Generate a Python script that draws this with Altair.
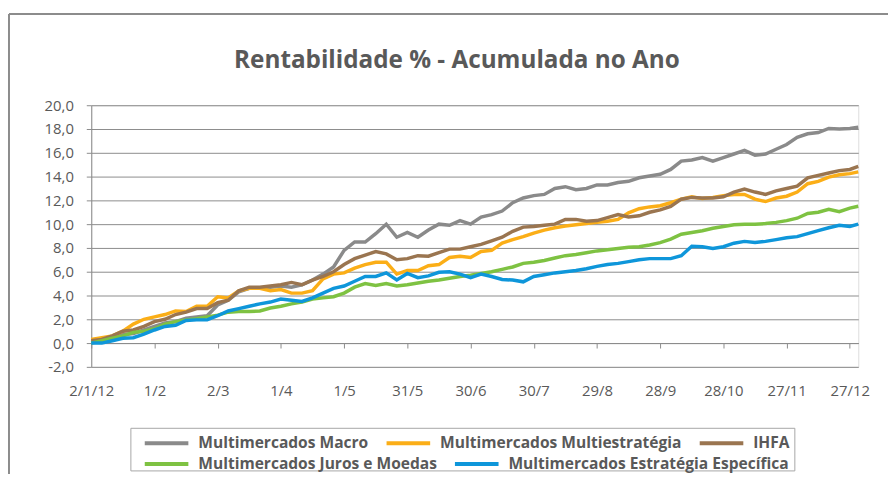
import altair as alt
import pandas as pd

# ---------------- data ----------------
start_date = "2012-01-02"
end_date = "2012-12-31"
day_offsets = [0, 5, 10, 15, 20, 25, 30, 35, 40, 45, 50, 55, 60, 65, 70, 75, 80, 85, 90, 95,
               100, 105, 110, 115, 120, 125, 130, 135, 140, 145, 150, 155, 160, 165, 170, 175,
               180, 185, 190, 195, 200, 205, 210, 215, 220, 225, 230, 235, 240, 245, 250, 255,
               260, 265, 270, 275, 280, 285, 290, 295, 300, 305, 310, 315, 320, 325, 330, 335,
               340, 345, 350, 355, 360, 364]

macro = [0.1, 0.3, 0.5, 0.7, 0.8, 1.1, 1.4, 1.7, 1.8, 2.1, 2.2, 2.3, 3.2, 3.6, 4.3, 4.6, 4.6, 4.7, 4.8, 4.7,
         4.9, 5.3, 5.8, 6.4, 7.8, 8.5, 8.5, 9.2, 10.0, 8.9, 9.3, 8.9, 9.5, 10.0, 9.9, 10.3,
         10.0, 10.6, 10.8, 11.1, 11.8, 12.2, 12.4, 12.5, 13.0, 13.15, 12.9, 13.0, 13.3, 13.3, 13.5, 13.6,
         13.9, 14.05, 14.2, 14.6, 15.3, 15.4, 15.6, 15.3, 15.6, 15.9, 16.2, 15.8, 15.9, 16.3, 16.7, 17.3,
         17.6, 17.7, 18.05, 18.0, 18.05, 18.15]

multiestrategia = [0.3, 0.45, 0.6, 1.0, 1.6, 2.0, 2.2, 2.4, 2.7, 2.65, 3.1, 3.1, 3.9, 3.8, 4.4, 4.6, 4.6, 4.4, 4.5, 4.2,
                   4.2, 4.4, 5.4, 5.8, 5.9, 6.3, 6.6, 6.8, 6.8, 5.8, 6.1, 6.1, 6.5, 6.6, 7.2, 7.3,
                   7.2, 7.7, 7.8, 8.4, 8.7, 8.95, 9.25, 9.5, 9.7, 9.85, 9.95, 10.05, 10.15, 10.25, 10.4, 10.95,
                   11.3, 11.45, 11.55, 11.8, 12.1, 12.3, 12.15, 12.25, 12.4, 12.5, 12.5, 12.1, 11.9, 12.2, 12.35, 12.7,
                   13.4, 13.6, 13.95, 14.15, 14.25, 14.4]

ihfa = [0.2, 0.3, 0.6, 1.0, 1.1, 1.4, 1.8, 2.0, 2.4, 2.6, 2.9, 2.9, 3.4, 3.6, 4.4, 4.7, 4.7, 4.8, 4.9, 5.1,
        4.9, 5.3, 5.6, 6.0, 6.6, 7.1, 7.4, 7.7, 7.5, 7.0, 7.1, 7.35, 7.3, 7.6, 7.9, 7.9,
        8.1, 8.3, 8.6, 8.9, 9.4, 9.75, 9.8, 9.9, 10.0, 10.4, 10.4, 10.25, 10.3, 10.55, 10.8, 10.6,
        10.7, 11.0, 11.2, 11.5, 12.1, 12.25, 12.2, 12.2, 12.3, 12.7, 12.95, 12.7, 12.5, 12.8, 13.0, 13.2,
        13.9, 14.1, 14.3, 14.5, 14.6, 14.85]

juros_moedas = [0.0, 0.2, 0.4, 0.6, 0.9, 1.0, 1.2, 1.6, 1.8, 1.95, 2.05, 2.2, 2.35, 2.6, 2.65, 2.65, 2.7, 2.95, 3.1, 3.3,
                3.45, 3.7, 3.8, 3.9, 4.2, 4.7, 5.0, 4.85, 5.0, 4.8, 4.9, 5.05, 5.2, 5.3, 5.45, 5.6,
                5.7, 5.85, 6.0, 6.2, 6.4, 6.7, 6.8, 6.95, 7.15, 7.35, 7.45, 7.6, 7.75, 7.85, 7.95, 8.05,
                8.1, 8.25, 8.45, 8.75, 9.15, 9.3, 9.45, 9.65, 9.8, 9.95, 10.0, 10.0, 10.05, 10.15, 10.3, 10.5,
                10.9, 11.0, 11.25, 11.05, 11.35, 11.5]

estrategia_especifica = [0.0, 0.0, 0.2, 0.4, 0.45, 0.75, 1.1, 1.4, 1.5, 1.9, 1.95, 1.95, 2.3, 2.7, 2.9, 3.1, 3.3, 3.45, 3.7, 3.6,
                         3.5, 3.8, 4.2, 4.6, 4.8, 5.2, 5.6, 5.6, 5.9, 5.3, 5.85, 5.5, 5.65, 5.95, 6.0, 5.8,
                         5.5, 5.8, 5.6, 5.35, 5.3, 5.15, 5.6, 5.75, 5.9, 6.0, 6.1, 6.25, 6.45, 6.6, 6.7, 6.85,
                         7.0, 7.1, 7.1, 7.1, 7.35, 8.15, 8.1, 7.95, 8.1, 8.4, 8.55, 8.45, 8.55, 8.7, 8.85, 8.95,
                         9.2, 9.45, 9.7, 9.9, 9.8, 10.0]

series_names = ["Multimercados Macro", "Multimercados Multiestratégia", "IHFA",
                "Multimercados Juros e Moedas", "Multimercados Estratégia Específica"]
series_values = [macro, multiestrategia, ihfa, juros_moedas, estrategia_especifica]
series_colors = ["#8a8a8a", "#fbae17", "#9a7550", "#7ec242", "#0e96da"]

tick_dates = ["2012-01-02", "2012-02-01", "2012-03-02", "2012-04-01", "2012-05-01", "2012-05-31",
              "2012-06-30", "2012-07-30", "2012-08-29", "2012-09-28", "2012-10-28", "2012-11-27",
              "2012-12-27"]
y_ticks = [-2, 0, 2, 4, 6, 8, 10, 12, 14, 16, 18, 20]

title_text = "Rentabilidade % - Acumulada no Ano"

# ---------------- build table ----------------
dates = [pd.Timestamp(start_date) + pd.Timedelta(days=d) for d in day_offsets]
rows = []
for name, vals in zip(series_names, series_values):
    for dt, v in zip(dates, vals):
        rows.append({"date": dt, "value": v, "series": name})
df = pd.DataFrame(rows)
df_a = df[df["series"].isin(series_names[:3])]
df_b = df[df["series"].isin(series_names[3:])]


def to_dt(s):
    t = pd.Timestamp(s)
    return alt.DateTime(year=t.year, month=t.month, date=t.day)


tick_vals = [to_dt(s) for s in tick_dates]

# ---------------- style ----------------
FONT = "Open Sans"
TXT = "#595959"
GRID = "#8c8c8c"
W, H = 774, 264

x_scale = alt.Scale(domain=[to_dt(start_date), to_dt(end_date)])
y_scale = alt.Scale(domain=[-2, 20], nice=False, zero=False)

y_axis = alt.Axis(values=y_ticks, title=None, grid=True, gridColor=GRID, gridWidth=1,
                  domainColor=GRID, tickColor=GRID, tickSize=5,
                  labelFont=FONT, labelFontSize=15, labelColor=TXT, labelPadding=13,
                  labelExpr="(datum.value < 0 ? '-' : '') + replace(format(abs(datum.value), '.1f'), '.', ',')")

x_axis_labels = alt.Axis(values=tick_vals, title=None, orient="bottom", grid=False, domain=False,
                         ticks=False, labelFont=FONT, labelFontSize=15, labelColor=TXT,
                         labelPadding=17, labelOverlap=False, labelFlush=False,
                         labelExpr="month(datum.value) == 0 && date(datum.value) == 2 ? "
                                   "timeFormat(datum.value, '%-d/%-m/%y') : timeFormat(datum.value, '%-d/%-m')")

x_axis_zero = alt.Axis(values=tick_vals, title=None, orient="bottom", grid=False, labels=False,
                       domain=True, domainColor=GRID, ticks=True, tickColor=GRID, tickSize=5,
                       offset=-24)

legend_common = dict(orient="none", direction="horizontal", title=None, symbolType="stroke",
                     symbolSize=1936, symbolStrokeWidth=4, labelFont=FONT, labelFontSize=15.7,
                     labelFontWeight="bold", labelColor=TXT, labelLimit=400, columnPadding=10,
                     labelOffset=8, padding=0)

one_row = pd.DataFrame({"k": [0]})

frame_top = alt.Chart(one_row).mark_rule(stroke="#8c8c8c", strokeWidth=2).encode(
    x=alt.value(-83), x2=alt.value(900), y=alt.value(-92))
frame_left = alt.Chart(one_row).mark_rule(stroke="#8c8c8c", strokeWidth=2).encode(
    x=alt.value(-83), y=alt.value(-92), y2=alt.value(500))

legend_box = alt.Chart(one_row).mark_rect(filled=False, stroke="#a6a6a6", strokeWidth=1).encode(
    x=alt.value(40), x2=alt.value(710), y=alt.value(326), y2=alt.value(369))

title_mark = alt.Chart(one_row).mark_text(
    text=title_text, font=FONT, fontSize=24.5, fontWeight="bold", color=TXT,
    align="center", baseline="alphabetic").encode(x=alt.value(369), y=alt.value(-38))

lines_a = alt.Chart(df_a).mark_line(strokeWidth=3.5).encode(
    x=alt.X("date:T", scale=x_scale, axis=x_axis_labels),
    y=alt.Y("value:Q", scale=y_scale, axis=y_axis),
    color=alt.Color("series:N", scale=alt.Scale(domain=series_names[:3], range=series_colors[:3]),
                    legend=alt.Legend(legendX=52, legendY=317, **legend_common)),
)

lines_b = alt.Chart(df_b).mark_line(strokeWidth=3.5).encode(
    x=alt.X("date:T", scale=x_scale, axis=x_axis_zero),
    y=alt.Y("value:Q", scale=y_scale, axis=y_axis),
    stroke=alt.Stroke("series:N", scale=alt.Scale(domain=series_names[3:], range=series_colors[3:]),
                      legend=alt.Legend(legendX=52, legendY=338, **legend_common)),
)

chart = alt.layer(frame_top, frame_left, legend_box, title_mark, lines_a, lines_b).resolve_axis(
    x="independent").properties(
    width=W, height=H,
    autosize=alt.AutoSizeParams(type="none"),
    padding={"left": 84, "top": 96, "right": 30, "bottom": 106},
).configure_view(stroke="transparent").configure(background="white")

chart.save("out.html", embed_options={"renderer": "svg", "actions": False})
